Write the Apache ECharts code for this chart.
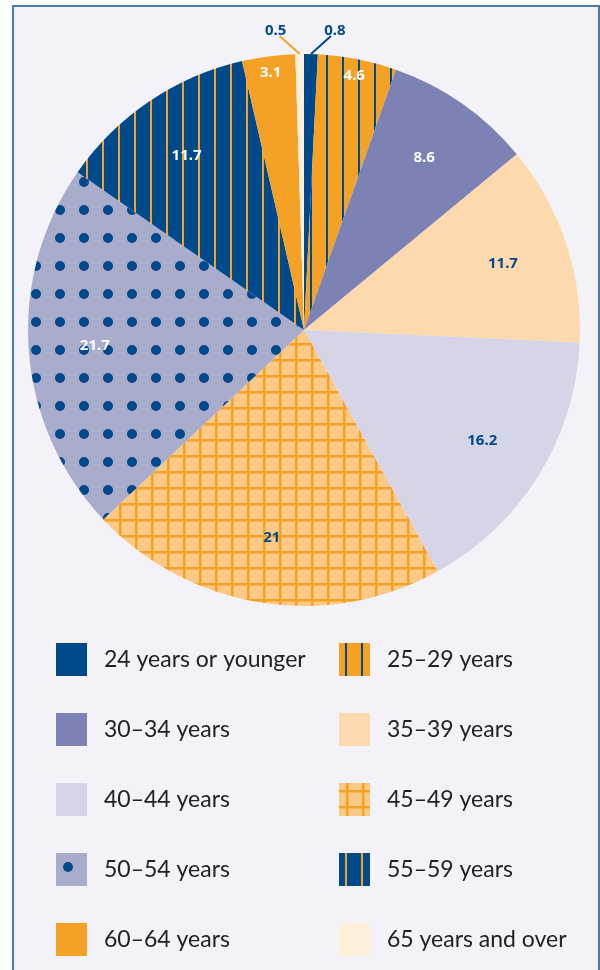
<!DOCTYPE html>
<html>
<head>
<meta charset="utf-8">
<script src="https://cdn.jsdelivr.net/npm/echarts@6/dist/echarts.min.js"></script>
<style>
  html, body { margin: 0; padding: 0; background: #ffffff; }
  #frame {
    position: absolute; left: 12px; top: 5px; width: 584px; height: 970px;
    background: #f3f2f8;
    border-left: 2px solid #4b79b1; border-top: 2px solid #4b79b1; border-right: 2px solid #4b79b1;
  }
  #chart { position: absolute; left: 0; top: 0; width: 600px; height: 970px; }
</style>
</head>
<body>
<div id="frame"></div>
<div id="chart"></div>
<script>
// age groups, in clockwise order from the top of the pie
const ageGroups = [
  '24 years or younger', '25–29 years', '30–34 years', '35–39 years', '40–44 years',
  '45–49 years', '50–54 years', '55–59 years', '60–64 years', '65 years and over'
];
// share of each group (%)
const shares = [0.8, 4.6, 8.6, 11.7, 16.2, 21, 21.7, 11.7, 3.1, 0.5];
// legend columns
const leftLegend = ['24 years or younger', '30–34 years', '40–44 years', '50–54 years', '60–64 years'];
const rightLegend = ['25–29 years', '35–39 years', '45–49 years', '55–59 years', '65 years and over'];

const BLUE = '#004a8c';
const ORANGE = '#f5a126';

// small canvas patterns for the hatched slices
function makePattern(w, h, draw) {
  const c = document.createElement('canvas');
  c.width = w; c.height = h;
  draw(c.getContext('2d'));
  return { image: c, repeat: 'repeat' };
}
const stripesOnOrange = makePattern(16, 16, ctx => {
  ctx.fillStyle = ORANGE; ctx.fillRect(0, 0, 16, 16);
  ctx.fillStyle = BLUE; ctx.fillRect(6, 0, 2, 16);
});
const stripesOnBlue = makePattern(16, 16, ctx => {
  ctx.fillStyle = BLUE; ctx.fillRect(0, 0, 16, 16);
  ctx.fillStyle = ORANGE; ctx.fillRect(6, 0, 2, 16);
});
const dots = makePattern(24, 28, ctx => {
  ctx.fillStyle = '#a9acca'; ctx.fillRect(0, 0, 24, 28);
  ctx.fillStyle = BLUE;
  ctx.beginPath(); ctx.arc(12, 14, 5, 0, Math.PI * 2); ctx.fill();
});
const grid = makePattern(16, 16, ctx => {
  ctx.fillStyle = '#fbc986'; ctx.fillRect(0, 0, 16, 16);
  ctx.fillStyle = ORANGE;
  ctx.fillRect(7, 0, 2.5, 16);
  ctx.fillRect(0, 7, 16, 2.5);
});

const fills = [BLUE, stripesOnOrange, '#7c82b3', '#fdd9ad', '#d6d5e7', grid, dots, stripesOnBlue, ORANGE, '#fdefda'];
const labelColors = [BLUE, '#fff', '#fff', BLUE, BLUE, BLUE, '#fff', '#fff', '#fff', BLUE];

const CX = 304, CY = 330, R = 276;
const total = shares.reduce((a, b) => a + b, 0);

function midAngle(i) {
  let cum = 0;
  for (let k = 0; k < i; k++) cum += shares[k];
  return 2 * Math.PI * (cum + shares[i] / 2) / total;
}

const chart = echarts.init(document.getElementById('chart'));

const legendText = { fontFamily: 'Lato', fontSize: 23, color: '#222', padding: [0, 0, 0, 12] };

const option = {
  animation: false,
  legend: [
    {
      data: leftLegend, orient: 'vertical', left: 56, top: 643, padding: 0,
      itemWidth: 31, itemHeight: 33, itemGap: 37, icon: 'rect', selectedMode: false,
      textStyle: legendText
    },
    {
      data: rightLegend, orient: 'vertical', left: 339, top: 643, padding: 0,
      itemWidth: 31, itemHeight: 33, itemGap: 37, icon: 'rect', selectedMode: false,
      textStyle: legendText
    }
  ],
  series: [
    {
      type: 'pie',
      center: [CX, CY],
      radius: R,
      startAngle: 90,
      clockwise: true,
      avoidLabelOverlap: false,
      emphasis: { disabled: true },
      label: {
        position: 'inside',
        formatter: '{c}',
        fontFamily: 'Noto Sans',
        fontWeight: 'bold',
        fontSize: 15
      },
      labelLine: { show: false },
      data: shares.map((v, i) => {
        const small = i === 0 || i === 9;
        return {
          name: ageGroups[i],
          value: v,
          itemStyle: { color: fills[i] },
          label: { color: labelColors[i], position: small ? 'outside' : 'inside' },
          labelLine: small ? { show: true, lineStyle: { color: i === 0 ? BLUE : ORANGE, width: 2 } } : { show: false }
        };
      }),
      labelLayout: function (p) {
        const i = p.dataIndex;
        const a = midAngle(i);
        const s = Math.sin(a), c = Math.cos(a);
        if (i === 0 || i === 9) {
          const dir = i === 0 ? 1 : -1;
          const sx = CX + R * s, sy = CY - R * c;
          const ex = sx + dir * 20, ey = sy - 18;
          return {
            x: ex + dir * 4, y: ey + 2, align: 'center', verticalAlign: 'bottom',
            labelLinePoints: [[sx, sy], [ex, ey], [ex, ey]]
          };
        }
        const r = shares[i] < 6 ? 0.94 * R : 0.76 * R;
        return { x: CX + r * s, y: CY - r * c, align: 'center', verticalAlign: 'middle' };
      }
    }
  ]
};

chart.setOption(option);
</script>
</body>
</html>
